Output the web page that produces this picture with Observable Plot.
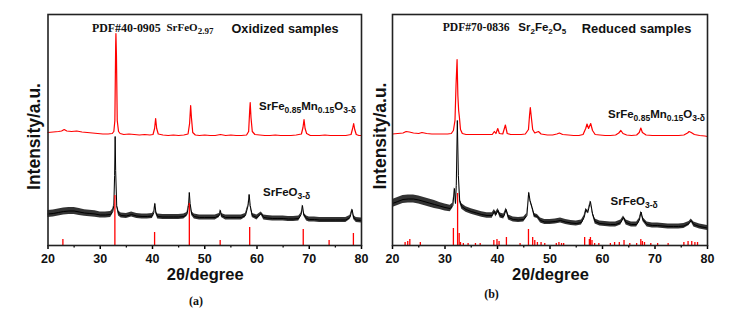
<!DOCTYPE html>
<html><head><meta charset="utf-8">
<script src="https://cdn.jsdelivr.net/npm/d3@7"></script>
<script src="https://cdn.jsdelivr.net/npm/@observablehq/plot@0.6"></script>
<style>
body{margin:0;background:#fff;}
#wrap{position:relative;width:752px;height:311px;overflow:hidden;background:#fff;}
#wrap svg{position:absolute;top:0;}
</style></head><body><div id="wrap"></div>
<script>
// ---- data (2θ in degrees, intensity in arbitrary units) ----
const majorTicks = [20, 30, 40, 50, 60, 70, 80];
const minorTicks = [25, 35, 45, 55, 65, 75];

// (a) oxidized, SrFe0.85Mn0.15O3-δ (red) [2θ, intensity]
const oxMn = [[20,113],[21,113.5],[22,114],[22.6,114.5],[23.1,116],[23.6,114.5],[24.5,114],[25.5,114.5],[26.5,113.5],[27.5,113],[28.5,112.5],[29.5,112],[30.5,111.5],[31.5,111.5],[32.3,112],[32.6,114],[32.8,125],[32.95,200],[33.0,212],[33.1,190],[33.25,125],[33.5,114],[33.8,112],[34.5,111],[35.5,111.5],[36.5,111],[37.5,110.5],[38.5,111],[39.5,110.5],[40.1,111],[40.4,117],[40.6,127],[40.8,117],[41.1,111.5],[42,110.5],[43,110],[44,110.5],[45,110],[46,110.5],[46.8,111.5],[47.1,122],[47.3,140],[47.45,128],[47.7,113],[48.2,110.5],[49,110],[50,110.5],[51,110],[52,110],[53,111],[54,110],[55,110.5],[56,110],[57,110],[58,110.5],[58.4,114],[58.6,135],[58.7,143],[58.85,128],[59.1,114],[59.6,111],[60.5,110.5],[61.5,110],[62.5,110],[63.5,110.5],[64.5,110],[65.5,110],[66.5,110],[67.5,110.5],[68.5,111.5],[68.8,118],[69.0,126],[69.2,117],[69.5,112],[70.2,110],[71,110],[72,110],[73,110.5],[74,110],[75,110],[76,110],[77,110],[78,111],[78.3,117],[78.5,122],[78.7,116],[79,111],[79.5,110],[80,110]];

// (a) oxidized, SrFeO3-δ (black) [2θ, intensity, noise half-width]
const oxSFO = [[20,31.5,3.5],[21,32,3.5],[22,33,3.5],[23,34,3.5],[24,34.5,3.5],[25,34.5,3.5],[26,33.5,3.5],[27,32.5,3.2],[28,32,3.2],[29,31.5,3.2],[30,30.5,3],[31,30.5,3],[32,31,3],[32.4,34,2.5],[32.6,40,1.6],[32.75,70,0.8],[32.85,109,0.6],[32.95,75,0.8],[33.15,40,1.6],[33.5,32,2.5],[34,30,2.5],[35,29.5,2.5],[36,31,2.5],[37,29.5,2.5],[38,29,2.5],[39,29,2.5],[40,29.5,2.5],[40.25,33,1.6],[40.45,42,0.8],[40.65,33,1.6],[41,29,2.5],[42,28.5,2.5],[43,28.5,2.5],[44,28.5,2.5],[45,28.5,2.5],[46,29,2.5],[46.6,31,2],[46.9,40,1.2],[47.05,53,0.6],[47.2,42,1.2],[47.5,32,2],[48,29,2.5],[49,28,2.5],[50,28,2.5],[51,28,2.5],[52,28,2.5],[52.8,30,2],[53,35,1.2],[53.2,30,2],[54,28,2.5],[55,28,2.5],[56,28,2.5],[57,28,2.5],[57.8,30,2],[58.3,40,1.2],[58.5,51,0.6],[58.7,40,1.2],[59.1,30,2],[60,28,2.5],[60.8,32,1.6],[61.3,28,2.5],[62,27.5,2.5],[63,27,2.5],[64,27,2.5],[65,27,2.5],[66,26.5,2.5],[67,26.5,2.5],[68,27,2.5],[68.45,31,1.6],[68.7,40,0.8],[68.95,31,1.6],[69.5,27,2.5],[70,26,2.5],[71,26,2.5],[72,25.5,2.5],[73,25.5,2.5],[74,25.5,2.5],[75,25.5,2.5],[76,25.5,2.5],[77,25.5,2.5],[77.8,28,2],[78.2,36,0.8],[78.5,28,2],[79,25.5,2.5],[80,25,2.5]];

// (a) reference pattern PDF#40-0905 [2θ, relative height]
const pdf400905 = [[22.85,6],[32.8,50],[40.4,13],[47.05,42],[52.95,5],[58.6,18],[68.85,16],[73.8,5],[78.45,12]];

// (b) reduced, SrFe0.85Mn0.15O3-δ (red)
const redMn = [[20,111.5],[21,112],[22,112.5],[22.6,114],[23.2,113.5],[24,112.5],[25,112],[25.6,113],[26.5,112],[27.5,111.5],[28.5,111.5],[29.5,111.5],[30.5,111.5],[31.2,112],[31.6,115],[31.9,125],[32.1,160],[32.3,186],[32.45,150],[32.6,135],[32.75,128],[32.95,116],[33.3,112],[34,111],[35,111],[36,111],[37,111],[38,111],[39,111],[39.4,114],[39.7,112],[40.05,117],[40.35,112],[41,111.5],[41.5,120.5],[41.85,112],[42.5,111],[43.5,111],[44.5,111],[45.3,111.5],[45.9,116],[46.1,130],[46.25,138],[46.45,128],[46.7,116],[47.1,112.5],[47.8,114],[48.3,111.5],[49.5,110.5],[50.5,110.5],[51.3,111.5],[51.8,112.5],[52.4,111],[53.5,110.5],[54.5,110],[55.5,110],[56.3,111],[56.8,117],[57.05,121.5],[57.35,117],[57.75,122],[58.1,115],[58.6,111],[59.5,110.5],[60.5,110],[61.5,110],[62.5,110.5],[63.1,112.5],[63.5,115],[63.9,112],[64.6,110.5],[65.5,110],[66.5,110.5],[67.0,113],[67.3,117.5],[67.6,113],[68.3,110.5],[69.5,110],[70.5,110],[71.5,110],[72.5,110],[73.5,110],[74.5,110],[75.5,110.5],[76.2,112.5],[76.5,114],[76.9,113],[77.5,111],[78.5,110],[79.5,109.5],[80,109]];

// (b) reduced, SrFeO3-δ (black) [2θ, intensity, noise half-width]
const redSFO = [[20,42,4],[21,44,4],[22,46,4],[23,46.5,4],[24,46.5,4],[25,45.5,4],[26,44,4],[27,42.5,4],[28,41,4],[29,39.5,3.6],[30,38,3.6],[31,37,3.2],[31.5,40,2.4],[31.8,57,1.2],[32.0,42,1.6],[32.15,60,1.2],[32.35,125,0.6],[32.55,70,1.2],[32.8,45,2],[33.2,39,2.8],[34,36,2.8],[35,34,2.8],[36,32.5,2.8],[37,31,2.8],[38,30,2.8],[39,30,2.8],[39.4,34,2],[39.7,31,2.4],[40.1,35,2],[40.5,30,2.4],[41.2,29,2.4],[41.65,36,1.6],[42.1,28,2.4],[43,26,2.4],[44,25.5,2.4],[45,26,2.4],[45.6,30,2],[45.95,53,0.8],[46.2,45,1.2],[46.6,38,1.6],[47.0,30,2],[47.6,29,2],[48.2,25,2.4],[49,23.5,2.4],[50,23.5,2.4],[51,24,2.4],[52,25,2.4],[53,23.5,2.4],[54,22.5,2.4],[55,22,2.4],[56,23,2.4],[56.5,28,2],[56.85,36,1.2],[57.2,33,1.6],[57.7,44,0.8],[58.1,32,1.6],[58.6,24,2.4],[59.5,22,2.4],[60.5,21.5,2.4],[61.5,21,2.4],[62.5,21,2.4],[63.5,23,2.4],[64.0,28,1.6],[64.5,23,2.4],[65.5,21,2.4],[66.5,21,2.4],[67.0,25,2],[67.35,33.5,1],[67.7,26,2],[68.5,21,2.4],[69.5,20,2.4],[70.5,20,2.4],[71.5,19.5,2.4],[72.5,19,2.4],[73.5,19,2.4],[74.5,19,2.4],[75.5,19.5,2.4],[76.5,22,2],[76.9,25,1.6],[77.4,21,2.4],[78.5,19,2.4],[79.5,18,2.4],[80,17.5,2.4]];

// (b) reference pattern PDF#70-0836 [2θ, relative height]
const pdf700836 = [[22.4,3],[22.9,4],[23.3,6],[25.3,3],[31.6,17],[32.4,52],[32.7,12],[32.95,3],[33.5,2],[34.4,2],[35.8,2],[36.7,2],[39.3,5],[39.9,6],[40.3,4],[41.7,8],[44.3,2],[45.9,16],[46.7,8],[47.1,5],[47.6,3],[48.3,3],[49.0,2],[51.2,2],[51.7,3],[52.2,2],[52.6,2],[56.6,8],[57.5,6],[57.7,8],[58.0,5],[58.5,2],[59.3,2],[61.5,2],[62.3,3],[63.2,3],[64.1,5],[65.2,2],[66.5,2],[67.3,6],[67.6,4],[68.0,3],[69.2,2],[70.5,2],[72.5,2],[75.5,3],[76.3,4],[77.0,4],[77.6,3],[78.1,3]];

// ---- drawing ----
const SANS = "'Liberation Sans', Arial, sans-serif";
const SERIF = "'Liberation Serif', 'Times New Roman', serif";
const RED = "#ff0000";

function panel(cfg) {
  const plot = Plot.plot({
    width: 376, height: 311,
    marginLeft: cfg.mL, marginRight: cfg.mR, marginTop: 14, marginBottom: 66,
    style: {background: "transparent", overflow: "visible", fontFamily: SANS},
    x: {domain: [20, 80]},
    y: {domain: [0, 231], axis: null},
    marks: [
      Plot.areaY(cfg.black, {x: d => d[0], y1: d => d[1] - d[2], y2: d => d[1] + d[2], fill: "#000", fillOpacity: 0.8}),
      Plot.line(cfg.black, {x: d => d[0], y: d => d[1], stroke: "#000", strokeWidth: 1}),
      Plot.line(cfg.red, {x: d => d[0], y: d => d[1], stroke: RED, strokeWidth: 1.2}),
      Plot.ruleX(cfg.sticks, {x: d => d[0], y1: 0, y2: d => d[1], stroke: RED, strokeWidth: 1.3}),
      Plot.axisX(majorTicks, {tickSize: 4, tickPadding: 4.5, fontSize: 12.5, fontWeight: "bold", label: null, strokeWidth: 1.5, fill: "#111"}),
      Plot.axisX(minorTicks, {tickSize: 2.5, tickFormat: () => "", label: null, strokeWidth: 1.3}),
      Plot.frame({stroke: "#222", strokeWidth: 1.6})
    ]
  });
  plot.style.left = cfg.left + "px";
  const svg = d3.select(plot);
  const g = svg.append("g").attr("fill", "#111");
  function rich(x, y, parts, fam, size, subSize) {
    const t = g.append("text").attr("x", x).attr("y", y).attr("text-anchor", "start")
      .attr("font-family", fam).attr("font-weight", "bold").attr("font-size", size);
    let sub = false;
    for (const [s, isSub] of parts) {
      const ts = t.append("tspan").text(s);
      if (isSub && !sub) { ts.attr("dy", size * 0.3).attr("font-size", subSize); sub = true; }
      else if (isSub) { ts.attr("font-size", subSize); }
      else if (!isSub && sub) { ts.attr("dy", -size * 0.3); sub = false; }
    }
    return t;
  }
  for (const a of cfg.labels) rich(a.x, a.y, a.parts, a.fam, a.size, a.sub);
  g.append("text").attr("transform", `translate(${cfg.yl[0]},${cfg.yl[1]}) rotate(-90)`)
    .attr("text-anchor", "middle").attr("font-family", SANS).attr("font-weight", "bold")
    .attr("font-size", 17.5).text("Intensity/a.u.");
  const cx = (cfg.mL + 376 - cfg.mR) / 2;
  g.append("text").attr("x", cx + 1).attr("y", 280).attr("text-anchor", "middle")
    .attr("font-family", SANS).attr("font-weight", "bold").attr("font-size", 16.5).text("2θ/degree");
  g.append("text").attr("x", cfg.tag[0]).attr("y", cfg.tag[1]).attr("text-anchor", "middle")
    .attr("font-family", SERIF).attr("font-weight", "bold").attr("font-size", 12).text(cfg.tag[2]);
  document.getElementById("wrap").appendChild(plot);
}

panel({
  left: 0, mL: 47.5, mR: 15,
  red: oxMn, black: oxSFO, sticks: pdf400905,
  yl: [39.5, 136.5], tag: [196, 305, "(a)"],
  labels: [
    {x: 92, y: 32, parts: [["PDF#40-0905", false]], fam: SERIF, size: 11.9, sub: 9},
    {x: 166.5, y: 31, parts: [["SrFeO", false], ["2.97", true]], fam: SERIF, size: 11, sub: 9},
    {x: 231.5, y: 33.3, parts: [["Oxidized samples", false]], fam: SANS, size: 12.7, sub: 9},
    {x: 259, y: 110, parts: [["SrFe", false], ["0.85", true], ["Mn", false], ["0.15", true], ["O", false], ["3-δ", true]], fam: SANS, size: 11.5, sub: 8.5},
    {x: 263, y: 196, parts: [["SrFeO", false], ["3-δ", true]], fam: SANS, size: 11.5, sub: 8.5}
  ]
});

panel({
  left: 376, mL: 16, mR: 45,
  red: redMn, black: redSFO, sticks: pdf700836,
  yl: [10, 136], tag: [115.5, 298, "(b)"],
  labels: [
    {x: 66.7, y: 31, parts: [["PDF#70-0836", false]], fam: SERIF, size: 11.6, sub: 9},
    {x: 142.3, y: 31, parts: [["Sr", false], ["2", true], ["Fe", false], ["2", true], ["O", false], ["5", true]], fam: SANS, size: 11.5, sub: 8},
    {x: 205.7, y: 33.3, parts: [["Reduced samples", false]], fam: SANS, size: 12.9, sub: 9},
    {x: 232, y: 118, parts: [["SrFe", false], ["0.85", true], ["Mn", false], ["0.15", true], ["O", false], ["3-δ", true]], fam: SANS, size: 11.5, sub: 8.5},
    {x: 234.5, y: 205, parts: [["SrFeO", false], ["3-δ", true]], fam: SANS, size: 11.5, sub: 8.5}
  ]
});
</script></body></html>
